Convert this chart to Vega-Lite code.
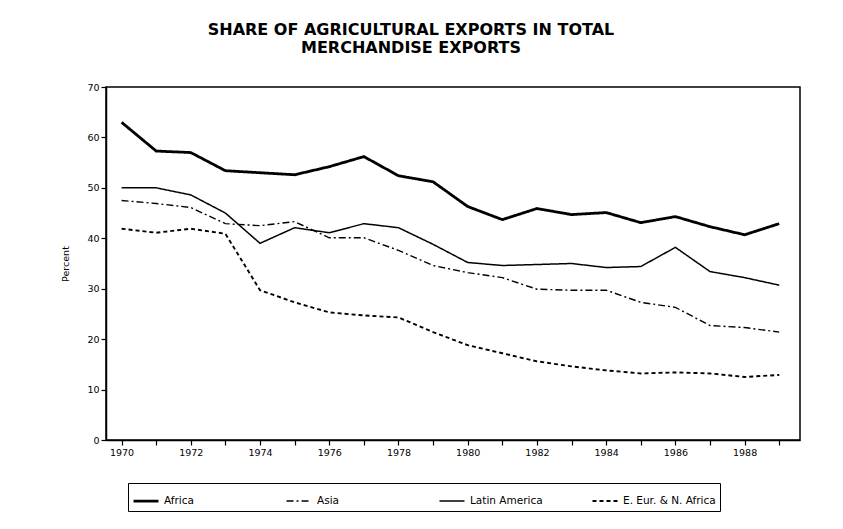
{
  "$schema": "https://vega.github.io/schema/vega-lite/v6.json",
  "width": 694,
  "height": 353,
  "autosize": {"type": "none"},
  "padding": {"left": 106, "top": 87, "right": 43, "bottom": 89},
  "background": "white",
  "config": {
    "font": "DejaVu Sans",
    "view": {"stroke": "black", "strokeWidth": 1.5},
    "axis": {"domainColor": "black", "tickColor": "black", "labelColor": "black", "titleColor": "black", "grid": false, "labelFontSize": 9.5, "domainWidth": 1.5, "tickWidth": 1.2}
  },
  "title": {
    "text": ["SHARE OF AGRICULTURAL EXPORTS IN TOTAL", "MERCHANDISE EXPORTS"],
    "anchor": "middle",
    "dx": -42,
    "fontSize": 16,
    "fontWeight": "bold",
    "lineHeight": 18,
    "offset": 26,
    "color": "black"
  },
  "data": {
    "values": [
      {"year": 1970, "region": "Africa", "percent": 63.0},
      {"year": 1971, "region": "Africa", "percent": 57.3},
      {"year": 1972, "region": "Africa", "percent": 57.0},
      {"year": 1973, "region": "Africa", "percent": 53.4},
      {"year": 1974, "region": "Africa", "percent": 53.0},
      {"year": 1975, "region": "Africa", "percent": 52.6},
      {"year": 1976, "region": "Africa", "percent": 54.2},
      {"year": 1977, "region": "Africa", "percent": 56.2},
      {"year": 1978, "region": "Africa", "percent": 52.4},
      {"year": 1979, "region": "Africa", "percent": 51.2},
      {"year": 1980, "region": "Africa", "percent": 46.3},
      {"year": 1981, "region": "Africa", "percent": 43.7},
      {"year": 1982, "region": "Africa", "percent": 45.9},
      {"year": 1983, "region": "Africa", "percent": 44.7},
      {"year": 1984, "region": "Africa", "percent": 45.1},
      {"year": 1985, "region": "Africa", "percent": 43.1},
      {"year": 1986, "region": "Africa", "percent": 44.3},
      {"year": 1987, "region": "Africa", "percent": 42.3},
      {"year": 1988, "region": "Africa", "percent": 40.7},
      {"year": 1989, "region": "Africa", "percent": 42.9},
      {"year": 1970, "region": "Asia", "percent": 47.5},
      {"year": 1971, "region": "Asia", "percent": 46.9},
      {"year": 1972, "region": "Asia", "percent": 46.1},
      {"year": 1973, "region": "Asia", "percent": 42.9},
      {"year": 1974, "region": "Asia", "percent": 42.5},
      {"year": 1975, "region": "Asia", "percent": 43.3},
      {"year": 1976, "region": "Asia", "percent": 40.1},
      {"year": 1977, "region": "Asia", "percent": 40.1},
      {"year": 1978, "region": "Asia", "percent": 37.6},
      {"year": 1979, "region": "Asia", "percent": 34.6},
      {"year": 1980, "region": "Asia", "percent": 33.2},
      {"year": 1981, "region": "Asia", "percent": 32.2},
      {"year": 1982, "region": "Asia", "percent": 29.9},
      {"year": 1983, "region": "Asia", "percent": 29.7},
      {"year": 1984, "region": "Asia", "percent": 29.7},
      {"year": 1985, "region": "Asia", "percent": 27.3},
      {"year": 1986, "region": "Asia", "percent": 26.3},
      {"year": 1987, "region": "Asia", "percent": 22.7},
      {"year": 1988, "region": "Asia", "percent": 22.3},
      {"year": 1989, "region": "Asia", "percent": 21.4},
      {"year": 1970, "region": "Latin America", "percent": 50.0},
      {"year": 1971, "region": "Latin America", "percent": 50.0},
      {"year": 1972, "region": "Latin America", "percent": 48.6},
      {"year": 1973, "region": "Latin America", "percent": 45.0},
      {"year": 1974, "region": "Latin America", "percent": 39.0},
      {"year": 1975, "region": "Latin America", "percent": 42.1},
      {"year": 1976, "region": "Latin America", "percent": 41.1},
      {"year": 1977, "region": "Latin America", "percent": 42.9},
      {"year": 1978, "region": "Latin America", "percent": 42.1},
      {"year": 1979, "region": "Latin America", "percent": 38.8},
      {"year": 1980, "region": "Latin America", "percent": 35.2},
      {"year": 1981, "region": "Latin America", "percent": 34.6},
      {"year": 1982, "region": "Latin America", "percent": 34.8},
      {"year": 1983, "region": "Latin America", "percent": 35.0},
      {"year": 1984, "region": "Latin America", "percent": 34.2},
      {"year": 1985, "region": "Latin America", "percent": 34.4},
      {"year": 1986, "region": "Latin America", "percent": 38.2},
      {"year": 1987, "region": "Latin America", "percent": 33.4},
      {"year": 1988, "region": "Latin America", "percent": 32.2},
      {"year": 1989, "region": "Latin America", "percent": 30.7},
      {"year": 1970, "region": "E. Eur. & N. Africa", "percent": 41.9},
      {"year": 1971, "region": "E. Eur. & N. Africa", "percent": 41.1},
      {"year": 1972, "region": "E. Eur. & N. Africa", "percent": 41.9},
      {"year": 1973, "region": "E. Eur. & N. Africa", "percent": 40.9},
      {"year": 1974, "region": "E. Eur. & N. Africa", "percent": 29.7},
      {"year": 1975, "region": "E. Eur. & N. Africa", "percent": 27.3},
      {"year": 1976, "region": "E. Eur. & N. Africa", "percent": 25.3},
      {"year": 1977, "region": "E. Eur. & N. Africa", "percent": 24.7},
      {"year": 1978, "region": "E. Eur. & N. Africa", "percent": 24.3},
      {"year": 1979, "region": "E. Eur. & N. Africa", "percent": 21.4},
      {"year": 1980, "region": "E. Eur. & N. Africa", "percent": 18.8},
      {"year": 1981, "region": "E. Eur. & N. Africa", "percent": 17.2},
      {"year": 1982, "region": "E. Eur. & N. Africa", "percent": 15.6},
      {"year": 1983, "region": "E. Eur. & N. Africa", "percent": 14.6},
      {"year": 1984, "region": "E. Eur. & N. Africa", "percent": 13.8},
      {"year": 1985, "region": "E. Eur. & N. Africa", "percent": 13.2},
      {"year": 1986, "region": "E. Eur. & N. Africa", "percent": 13.4},
      {"year": 1987, "region": "E. Eur. & N. Africa", "percent": 13.2},
      {"year": 1988, "region": "E. Eur. & N. Africa", "percent": 12.5},
      {"year": 1989, "region": "E. Eur. & N. Africa", "percent": 12.9}
    ]
  },
  "mark": {"type": "line", "color": "black"},
  "encoding": {
    "x": {
      "field": "year",
      "type": "quantitative",
      "scale": {"domain": [1969.55, 1989.6], "nice": false, "zero": false},
      "axis": {
        "title": null,
        "values": [1970, 1971, 1972, 1973, 1974, 1975, 1976, 1977, 1978, 1979, 1980, 1981, 1982, 1983, 1984, 1985, 1986, 1987, 1988, 1989],
        "format": "d",
        "labelExpr": "datum.value % 2 == 0 ? datum.label : ''",
        "tickSize": 5,
        "labelPadding": 2
      }
    },
    "y": {
      "field": "percent",
      "type": "quantitative",
      "scale": {"domain": [0, 70], "nice": false},
      "axis": {
        "title": "Percent",
        "values": [0, 10, 20, 30, 40, 50, 60, 70],
        "tickSize": 5,
        "labelPadding": 2,
        "titleFontSize": 9.5,
        "titleFontWeight": "normal",
        "titlePadding": 16
      }
    },
    "strokeDash": {
      "field": "region",
      "type": "nominal",
      "scale": {
        "domain": ["Africa", "Asia", "Latin America", "E. Eur. & N. Africa"],
        "range": [[1, 0], [7, 3, 2, 3], [1, 0], [4, 3]]
      },
      "legend": {
        "orient": "none",
        "legendX": 22,
        "legendY": 396,
        "direction": "horizontal",
        "columns": 4,
        "gridAlign": "all",
        "title": null,
        "strokeColor": "black",
        "padding": 4,
        "symbolType": "stroke",
        "symbolSize": 625,
        "symbolStrokeColor": "black",
        "labelFontSize": 10.5,
        "labelColor": "black",
        "columnPadding": 25
      }
    },
    "strokeWidth": {
      "field": "region",
      "type": "nominal",
      "scale": {
        "type": "ordinal",
        "domain": ["Africa", "Asia", "Latin America", "E. Eur. & N. Africa"],
        "range": [2.8, 1.4, 1.5, 1.9]
      }
    }
  }
}
